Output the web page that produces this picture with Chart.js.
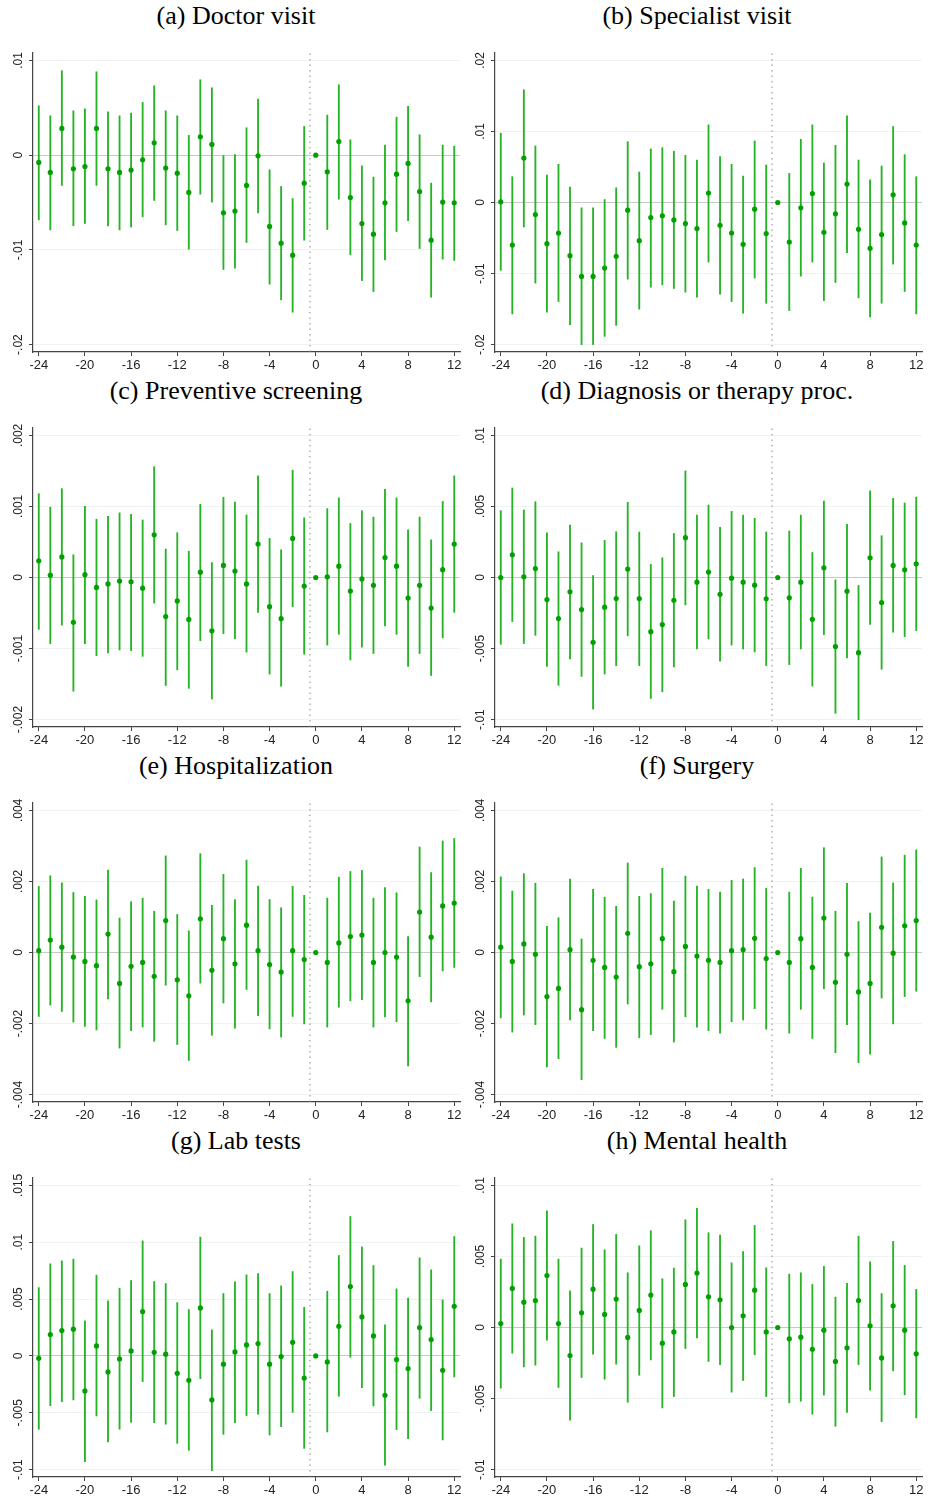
<!DOCTYPE html>
<html>
<head>
<meta charset="utf-8">
<script src="https://cdn.jsdelivr.net/npm/chart.js@4.4.1/dist/chart.umd.min.js"></script>
<style>
  body { margin: 0; background: #fff; width: 928px; height: 1502px; overflow: hidden; position: relative; }
  .title { position: absolute; width: 464px; text-align: center; font: 26px/30px "Liberation Serif", "Times New Roman", serif; color: #000; }
  canvas { position: absolute; }
</style>
</head>
<body>
<script>
const periods = [-24,-23,-22,-21,-20,-19,-18,-17,-16,-15,-14,-13,-12,-11,-10,-9,-8,-7,-6,-5,-4,-3,-2,-1,0,1,2,3,4,5,6,7,8,9,10,11,12];
const xTickLabels = ["-24","-20","-16","-12","-8","-4","0","4","8","12"];
const eventLine = -0.5;

// (a) Doctor visit
const doctorEst = [-0.00077,-0.00183,0.00282,-0.00144,-0.0012,0.00282,-0.00144,-0.00183,-0.00158,-0.00049,0.0013,-0.00137,-0.0019,-0.00394,0.00194,0.00113,-0.00609,-0.00591,-0.0032,-0.00007,-0.00753,-0.00929,-0.01056,-0.00296,0,-0.00176,0.00144,-0.00447,-0.00722,-0.00834,-0.00503,-0.00201,-0.00088,-0.00384,-0.00898,-0.00496,-0.00503];
const doctorHi = [0.00521,0.00415,0.00891,0.00468,0.00489,0.0088,0.00458,0.00415,0.00444,0.00556,0.00732,0.00468,0.00415,0.00208,0.00796,0.00711,0,0.00007,0.00289,0.00591,-0.00155,-0.00331,-0.00458,0.00303,null,0.00422,0.00743,0.00162,-0.00113,-0.00232,0.00106,0.00401,0.00514,0.00215,-0.00296,0.00106,0.00095];
const doctorLo = [-0.00683,-0.00789,-0.0032,-0.00746,-0.00722,-0.0032,-0.00746,-0.00789,-0.0076,-0.00651,-0.00479,-0.00736,-0.00796,-0.00993,-0.00412,-0.00496,-0.01207,-0.01193,-0.00922,-0.00609,-0.01362,-0.01528,-0.01658,-0.00898,null,-0.00785,-0.00465,-0.01052,-0.01324,-0.0144,-0.01105,-0.00806,-0.00693,-0.00986,-0.015,-0.01098,-0.01112];
const doctorTicks = [".01","0","-.01","-.02"];

// (b) Specialist visit
const specEst = [0.0001,-0.00598,0.00626,-0.0017,-0.00579,-0.00429,-0.00749,-0.01041,-0.01041,-0.00923,-0.00758,-0.00108,-0.00537,-0.00212,-0.00188,-0.00245,-0.00297,-0.00367,0.00132,-0.0032,-0.00429,-0.00589,-0.00094,-0.00438,0,-0.00556,-0.00075,0.00127,-0.00419,-0.0016,0.00259,-0.00377,-0.00645,-0.00452,0.00108,-0.00287,-0.00598];
const specHi = [0.00975,0.00363,0.01587,0.00796,0.00386,0.00537,0.00217,-0.00075,-0.00075,0.00042,0.00207,0.00857,0.00429,0.00754,0.00772,0.00721,0.00664,0.00598,0.01093,0.00645,0.00537,0.00372,0.00867,0.00528,null,0.0041,0.0089,0.01093,0.00556,0.00805,0.0122,0.00598,0.0032,0.00513,0.01069,0.00674,0.00363];
const specLo = [-0.00956,-0.01568,-0.00344,-0.01135,-0.01545,-0.01394,-0.01719,-0.02,-0.02,-0.01884,-0.01729,-0.01079,-0.01502,-0.01192,-0.01159,-0.0121,-0.01262,-0.01333,-0.00838,-0.0129,-0.01394,-0.01559,-0.01064,-0.01418,null,-0.01521,-0.01036,-0.00838,-0.0138,-0.01126,-0.00707,-0.01342,-0.01611,-0.01418,-0.00867,-0.01253,-0.01568];
const specTicks = [".02",".01","0","-.01","-.02"];

// (c) Preventive screening
const screenEst = [0.000235,0.000033,0.00029,-0.00063,0.00004,-0.00014,-0.00009,-0.00005,-0.00006,-0.00015,0.0006,-0.00055,-0.00033,-0.00059,0.000075,-0.00075,0.00017,0.00009,-0.00009,0.00047,-0.00041,-0.00058,0.00055,-0.00012,0,0.00001,0.00016,-0.00019,-0.00002,-0.00011,0.00028,0.00016,-0.00029,-0.00011,-0.00043,0.00011,0.00047];
const screenHi = [0.00118,0.00099,0.00125,0.00032,0.001,0.00082,0.00086,0.00091,0.00089,0.00081,0.00156,0.0004,0.00063,0.00037,0.00103,0.00021,0.00113,0.00106,0.00088,0.00143,0.00055,0.00039,0.00151,0.00084,null,0.00097,0.00112,0.00076,0.00094,0.00085,0.00124,0.00112,0.00067,0.00085,0.00053,0.00107,0.00143];
const screenLo = [-0.00073,-0.00093,-0.00067,-0.0016,-0.00093,-0.0011,-0.00106,-0.00102,-0.00103,-0.00111,-0.00036,-0.00152,-0.0013,-0.00156,-0.00089,-0.00171,-0.00079,-0.00086,-0.00105,-0.00049,-0.00136,-0.00153,-0.00041,-0.00108,null,-0.00095,-0.0008,-0.00116,-0.00098,-0.00107,-0.00068,-0.0008,-0.00125,-0.00107,-0.00138,-0.00085,-0.00049];
const screenTicks = [".002",".001","0","-.001","-.002"];

// (d) Diagnosis or therapy proc.
const diagEst = [0,0.0016,0.00005,0.00063,-0.00155,-0.00289,-0.00101,-0.00226,-0.00456,-0.00209,-0.00148,0.00059,-0.00148,-0.00381,-0.00331,-0.0016,0.0028,-0.00033,0.00038,-0.00118,-0.00005,-0.00033,-0.00054,-0.0015,0,-0.00143,-0.00033,-0.00294,0.00068,-0.00486,-0.00096,-0.00529,0.00139,-0.00176,0.00085,0.00054,0.00096];
const diagHi = [0.0047,0.0063,0.00475,0.00533,0.00315,0.00181,0.00369,0.00244,0.00014,0.00261,0.00322,0.00529,0.0032,0.00092,0.00139,0.0031,0.0075,0.00439,0.0051,0.00353,0.00465,0.00439,0.00416,0.0032,null,0.00327,0.00439,0.00176,0.00538,-0.00016,0.00374,-0.00056,0.00609,0.00294,0.00557,0.00524,0.00566];
const diagLo = [-0.0047,-0.0031,-0.00465,-0.00407,-0.00625,-0.00759,-0.00573,-0.00696,-0.00926,-0.00679,-0.0062,-0.00411,-0.0062,-0.00851,-0.00804,-0.0063,-0.00193,-0.00503,-0.00432,-0.00588,-0.00475,-0.00503,-0.00524,-0.0062,null,-0.00613,-0.00503,-0.00764,-0.00402,-0.00956,-0.00566,-0.01001,-0.00331,-0.00646,-0.00385,-0.00416,-0.00374];
const diagTicks = [".01",".005","0","-.005","-.01"];

// (e) Hospitalization
const hospEst = [0.00005,0.00035,0.00015,-0.00013,-0.00025,-0.00037,0.00052,-0.00087,-0.00039,-0.00028,-0.00067,0.0009,-0.00077,-0.00122,0.00095,-0.0005,0.00039,-0.00032,0.00077,0.00005,-0.00034,-0.00055,0.00005,-0.0002,0,-0.00028,0.00027,0.00045,0.00049,-0.00028,0,-0.00013,-0.00136,0.00114,0.00043,0.00131,0.00139];
const hospHi = [0.00186,0.00216,0.00196,0.00169,0.00158,0.00148,0.00232,0.00097,0.00143,0.00153,0.00116,0.00272,0.00107,0.00061,0.00278,0.00133,0.0022,0.00149,0.0026,0.00187,0.00149,0.00126,0.00186,0.00161,null,0.00153,0.00212,0.00228,0.00231,0.00153,0.00183,0.00168,0.00045,0.00297,0.00225,0.00314,0.00321];
const hospLo = [-0.0018,-0.00148,-0.00166,-0.00196,-0.00208,-0.00218,-0.00131,-0.00269,-0.0022,-0.0021,-0.0025,-0.00092,-0.00259,-0.00304,-0.00086,-0.00233,-0.00142,-0.00213,-0.00104,-0.00178,-0.00215,-0.00238,-0.0018,-0.00201,null,-0.0021,-0.00154,-0.00136,-0.00133,-0.0021,-0.00181,-0.00195,-0.00319,-0.00068,-0.00139,-0.00052,-0.00042];
const hospTicks = [".004",".002","0","-.002","-.004"];

// (f) Surgery
const surgEst = [0.00015,-0.00025,0.00024,-0.00005,-0.00124,-0.00101,0.00008,-0.00161,-0.00022,-0.00042,-0.00069,0.00054,-0.0004,-0.00032,0.00039,-0.00054,0.00017,-0.0001,-0.00022,-0.00028,0.00005,0.00008,0.0004,-0.00017,0,-0.00028,0.00039,-0.00042,0.00097,-0.00084,-0.00005,-0.00111,-0.00087,0.00071,-0.00002,0.00075,0.0009];
const surgHi = [0.00213,0.00173,0.00222,0.00195,0.00074,0.00098,0.00207,0.00038,0.00178,0.00156,0.0013,0.00252,0.00158,0.00166,0.00237,0.00145,0.00215,0.00187,0.00178,0.0017,0.00203,0.00207,0.00239,0.00181,null,0.0017,0.00237,0.00156,0.00295,0.00116,0.00195,0.00087,0.00111,0.00269,0.00196,0.00274,0.00289];
const surgLo = [-0.00184,-0.00224,-0.00176,-0.00203,-0.00322,-0.00299,-0.0019,-0.00358,-0.0022,-0.00242,-0.00267,-0.00145,-0.0024,-0.00231,-0.0016,-0.00252,-0.00181,-0.0021,-0.0022,-0.00227,-0.00195,-0.0019,-0.00158,-0.00216,null,-0.00227,-0.0016,-0.00242,-0.00102,-0.00282,-0.00203,-0.0031,-0.00286,-0.00128,-0.00201,-0.00124,-0.00109];
const surgTicks = [".004",".002","0","-.002","-.004"];

// (g) Lab tests
const labEst = [-0.00021,0.00188,0.00223,0.00235,-0.00308,0.00088,-0.00141,-0.00026,0.00044,0.0039,0.00032,0.00015,-0.00153,-0.00214,0.00422,-0.00387,-0.00073,0.00035,0.00097,0.00109,-0.00073,-0.00006,0.0012,-0.00194,0,-0.00053,0.00261,0.0061,0.00343,0.00176,-0.00346,-0.00032,-0.00111,0.00249,0.00144,-0.00126,0.00437];
const labHi = [0.00601,0.0081,0.00836,0.00851,0.00308,0.0071,0.00484,0.00596,0.00663,0.01012,0.00654,0.00637,0.00469,0.00408,0.01045,0.00229,0.00549,0.00651,0.00713,0.00725,0.00549,0.00616,0.00742,0.00428,null,0.00569,0.00883,0.01226,0.00959,0.00795,0.00273,0.0059,0.00508,0.00863,0.00757,0.00493,0.0105];
const labLo = [-0.00645,-0.00437,-0.00402,-0.00387,-0.0093,-0.00528,-0.00757,-0.00645,-0.00584,-0.00226,-0.00587,-0.00601,-0.00769,-0.0083,-0.002,-0.01009,-0.0069,-0.00587,-0.00525,-0.00513,-0.00695,-0.00622,-0.00496,-0.00813,null,-0.00669,-0.00355,-0.00012,-0.00279,-0.0044,-0.00962,-0.00648,-0.00728,-0.00373,-0.00481,-0.00739,-0.00185];
const labTicks = [".015",".01",".005","0","-.005","-.01"];

// (h) Mental health
const mentalEst = [0.00028,0.00275,0.00178,0.0019,0.00366,0.00028,-0.00197,0.00103,0.0027,0.00092,0.002,-0.0007,0.0012,0.00228,-0.0011,-0.00031,0.00303,0.00383,0.00216,0.00195,0,0.00082,0.00263,-0.00031,0,-0.0008,-0.00068,-0.00153,-0.00019,-0.00239,-0.00143,0.0019,0.00012,-0.00214,0.00153,-0.00019,-0.00185];
const mentalHi = [0.00481,0.0073,0.00634,0.00643,0.00821,0.00481,0.00258,0.00559,0.00725,0.00547,0.00655,0.00385,0.00575,0.00681,0.00343,0.00418,0.00758,0.00838,0.00667,0.0065,0.00455,0.00535,0.00718,0.0042,null,0.00376,0.00385,0.00303,0.0043,0.00214,0.0031,0.00643,0.00462,0.00239,0.00606,0.00437,0.00268];
const mentalLo = [-0.00427,-0.00181,-0.00277,-0.00265,-0.00089,-0.00422,-0.00652,-0.00352,-0.00188,-0.00364,-0.00258,-0.00526,-0.00336,-0.00228,-0.00566,-0.00486,-0.00148,-0.00073,-0.00239,-0.00261,-0.00455,-0.00373,-0.00192,-0.00486,null,-0.0053,-0.00519,-0.0061,-0.00476,-0.00695,-0.00598,-0.00261,-0.00441,-0.00662,-0.00305,-0.00474,-0.00636];
const mentalTicks = [".01",".005","0","-.005","-.01"];

const panels = [
  { title: "(a) Doctor visit", est: doctorEst, lo: doctorLo, hi: doctorHi, ticks: doctorTicks },
  { title: "(b) Specialist visit", est: specEst, lo: specLo, hi: specHi, ticks: specTicks },
  { title: "(c) Preventive screening", est: screenEst, lo: screenLo, hi: screenHi, ticks: screenTicks },
  { title: "(d) Diagnosis or therapy proc.", est: diagEst, lo: diagLo, hi: diagHi, ticks: diagTicks },
  { title: "(e) Hospitalization", est: hospEst, lo: hospLo, hi: hospHi, ticks: hospTicks },
  { title: "(f) Surgery", est: surgEst, lo: surgLo, hi: surgHi, ticks: surgTicks },
  { title: "(g) Lab tests", est: labEst, lo: labLo, hi: labHi, ticks: labTicks },
  { title: "(h) Mental health", est: mentalEst, lo: mentalLo, hi: mentalHi, ticks: mentalTicks }
];

Chart.defaults.font.family = "'Liberation Sans', Arial, sans-serif";

// rotated y labels, Stata style
const yLabels = {
  id: "yLabels",
  afterDraw(chart, args, opts) {
    const s = chart.scales.y;
    const ctx = chart.ctx;
    ctx.save();
    ctx.font = "12px 'Liberation Sans', Arial, sans-serif";
    ctx.fillStyle = "#222";
    ctx.textAlign = "center";
    ctx.textBaseline = "middle";
    opts.labels.forEach(lab => {
      const y = s.getPixelForValue(Number(lab));
      ctx.save();
      ctx.translate(chart.chartArea.left - 14, y);
      ctx.rotate(-Math.PI / 2);
      ctx.fillText(lab, 0, 0);
      ctx.restore();
    });
    ctx.restore();
  }
};

panels.forEach((p, i) => {
  const col = i % 2;
  const row = Math.floor(i / 2);
  const top = row * 375;

  const t = document.createElement("div");
  t.className = "title";
  t.style.left = (col ? 465 : 4) + "px";
  t.style.top = (top + 1) + "px";
  t.textContent = p.title;
  document.body.appendChild(t);

  const canvas = document.createElement("canvas");
  canvas.width = 464;
  canvas.height = 336;
  canvas.style.left = (col ? 464 : 0) + "px";
  canvas.style.top = (top + 40) + "px";
  document.body.appendChild(canvas);

  const tickVals = p.ticks.map(Number);
  const tMax = Math.max(...tickVals);
  const tMin = Math.min(...tickVals);
  const pad = (tMax - tMin) * 0.026;
  const yMin = tMin - pad;
  const yMax = tMax + pad;

  new Chart(canvas, {
    type: "scatter",
    data: {
      datasets: [
        {
          data: periods.map((x, k) => ({ x: x, y: p.est[k] })),
          pointRadius: 2.6,
          pointBackgroundColor: "#00a000",
          pointBorderWidth: 0,
          order: 0
        },
        {
          type: "bar",
          data: periods.map((x, k) => ({ x: x, y: [p.lo[k], p.hi[k]] })).filter(d => d.y[0] !== null),
          backgroundColor: "rgb(38,180,38)",
          barThickness: 1.2,
          order: 1
        },
        {
          type: "line",
          showLine: true,
          data: [{ x: eventLine, y: yMin }, { x: eventLine, y: yMax }],
          borderColor: "#8a8a8a",
          borderWidth: 1,
          borderDash: [1.5, 4],
          pointRadius: 0,
          order: 2
        }
      ]
    },
    options: {
      responsive: false,
      animation: false,
      devicePixelRatio: 1,
      layout: { padding: { top: 13, right: col ? 6 : 2, left: 0, bottom: 0 } },
      plugins: {
        legend: { display: false },
        tooltip: { enabled: false },
        yLabels: { labels: p.ticks }
      },
      scales: {
        x: {
          type: "linear",
          offset: false,
          min: -24.5,
          max: 12.5,
          afterBuildTicks: s => { s.ticks = xTickLabels.map(v => ({ value: Number(v) })); },
          afterFit: s => { s.height = 24; },
          ticks: { font: { size: 13 }, color: "#222", padding: 2, maxRotation: 0, autoSkip: false, callback: v => String(v) },
          grid: { offset: false, drawOnChartArea: false, tickLength: 4, tickColor: "#444" },
          border: { color: "#444", width: 1.2 }
        },
        y: {
          type: "linear",
          min: yMin,
          max: yMax,
          afterBuildTicks: s => { s.ticks = tickVals.map(v => ({ value: v })); },
          afterFit: s => { s.width = col ? 31 : 33; },
          ticks: { display: false },
          grid: {
            color: c => (c.tick && c.tick.value === 0 ? "#c8c8c8" : "#edf3f3"),
            tickLength: 4,
            tickColor: "#444"
          },
          border: { color: "#444", width: 1.2 }
        }
      }
    },
    plugins: [yLabels]
  });
});
</script>
</body>
</html>
